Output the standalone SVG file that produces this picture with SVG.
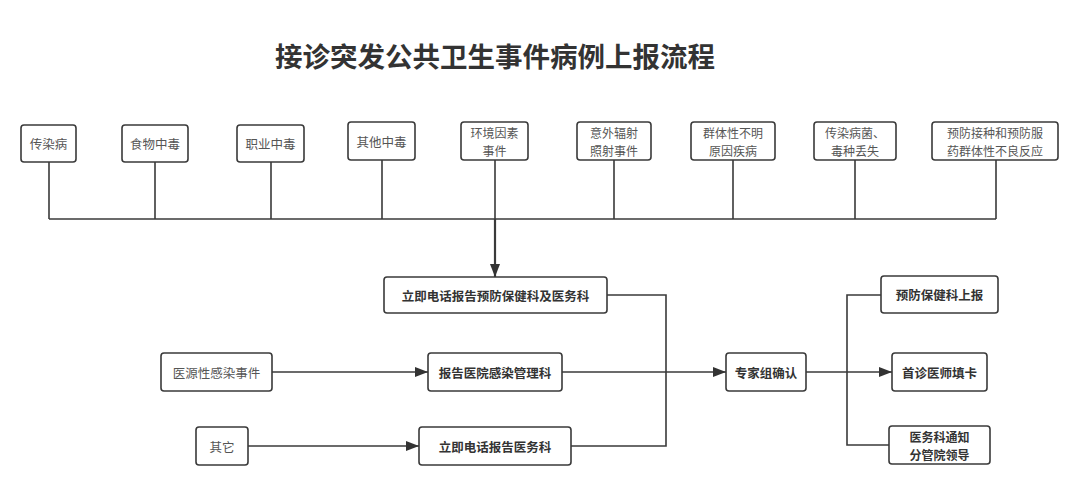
<svg xmlns="http://www.w3.org/2000/svg" width="1080" height="485" viewBox="0 0 1080 485">
<style>
.box{fill:#fff;stroke:#3a3a3a;stroke-width:1.6}
.t{font-family:"Noto Sans CJK SC","Noto Sans",sans-serif;font-size:12.5px;fill:#555;text-anchor:middle;dominant-baseline:central}
.t2{font-size:12px}
.b{fill:#333;font-weight:600}
.ln{fill:none;stroke:#3a3a3a;stroke-width:1.6}
.title{font-family:"Noto Sans CJK SC","Noto Sans",sans-serif;font-size:27.5px;font-weight:bold;fill:#333;text-anchor:middle}
</style>
<defs>
<marker id="arr" markerUnits="userSpaceOnUse" markerWidth="14" markerHeight="10" refX="13" refY="5" orient="auto">
<path d="M0,0 L13,5 L0,10 Z" fill="#333"/>
</marker>
</defs>
<rect width="1080" height="485" fill="#fff"/>
<text class="title" x="495" y="67">接诊突发公共卫生事件病例上报流程</text>

<g id="connectors">
<path class="ln" d="M49,162 V219 M155,162 V219 M271,162 V219 M382,160 V219 M495,160 V219 M614,160 V219 M733,160 V219 M855,160 V219 M996,160 V219"/>
<path class="ln" d="M49,219 H996"/>
<path class="ln" style="stroke-width:2.2" d="M495,219 V277" marker-end="url(#arr)"/>
<path class="ln" d="M607,295 H666 V446 H571"/>
<path class="ln" d="M272,372 H428" marker-end="url(#arr)"/>
<path class="ln" d="M248,446 H419" marker-end="url(#arr)"/>
<path class="ln" d="M562,372 H726" marker-end="url(#arr)"/>
<path class="ln" d="M806,372 H892" marker-end="url(#arr)"/>
<path class="ln" d="M881,295 H847 V445 H889"/>
</g>

<g id="n1"><rect class="box" x="21" y="125" width="55" height="37" rx="3"/><text class="t" x="48.5" y="143.5">传染病</text></g>
<g id="n2"><rect class="box" x="122" y="125" width="66" height="37" rx="3"/><text class="t" x="155" y="143.5">食物中毒</text></g>
<g id="n3"><rect class="box" x="237" y="125" width="67" height="37" rx="3"/><text class="t" x="270.5" y="143.5">职业中毒</text></g>
<g id="n4"><rect class="box" x="348" y="122" width="67" height="38" rx="3"/><text class="t" x="381.5" y="141">其他中毒</text></g>
<g id="n5"><rect class="box" x="461" y="122" width="67" height="38" rx="3"/><text class="t t2" x="494.5" y="132.25">环境因素<tspan x="494.5" dy="17.5">事件</tspan></text></g>
<g id="n6"><rect class="box" x="577" y="122" width="74" height="38" rx="3"/><text class="t t2" x="614" y="132.25">意外辐射<tspan x="614" dy="17.5">照射事件</tspan></text></g>
<g id="n7"><rect class="box" x="691" y="122" width="84" height="38" rx="3"/><text class="t t2" x="733" y="132.25">群体性不明<tspan x="733" dy="17.5">原因疾病</tspan></text></g>
<g id="n8"><rect class="box" x="814" y="122" width="82" height="38" rx="3"/><text class="t t2" x="855" y="132.25">传染病菌、<tspan x="855" dy="17.5">毒种丢失</tspan></text></g>
<g id="n9"><rect class="box" x="932" y="122" width="126" height="38" rx="3"/><text class="t t2" x="995" y="132.25">预防接种和预防服<tspan x="995" dy="17.5">药群体性不良反应</tspan></text></g>

<g id="n10"><rect class="box" x="384" y="277" width="223" height="36" rx="3"/><text class="t b" x="495.5" y="295">立即电话报告预防保健科及医务科</text></g>
<g id="n11"><rect class="box" x="161" y="353" width="111" height="38" rx="3"/><text class="t" x="216.5" y="372">医源性感染事件</text></g>
<g id="n12"><rect class="box" x="428" y="353" width="134" height="38" rx="3"/><text class="t b" x="495" y="372">报告医院感染管理科</text></g>
<g id="n13"><rect class="box" x="196" y="427" width="52" height="38" rx="3"/><text class="t" x="222" y="446">其它</text></g>
<g id="n14"><rect class="box" x="419" y="427" width="152" height="38" rx="3"/><text class="t b" x="495" y="446">立即电话报告医务科</text></g>
<g id="n15"><rect class="box" x="726" y="353" width="80" height="38" rx="3"/><text class="t b" x="766" y="372">专家组确认</text></g>
<g id="n16"><rect class="box" x="881" y="276" width="117" height="37" rx="3"/><text class="t b" x="939.5" y="294.5">预防保健科上报</text></g>
<g id="n17"><rect class="box" x="892" y="353" width="95" height="38" rx="3"/><text class="t b" x="939.5" y="372">首诊医师填卡</text></g>
<g id="n18"><rect class="box" x="889" y="426" width="101" height="38" rx="3"/><text class="t b t2" x="939.5" y="436.25">医务科通知<tspan x="939.5" dy="17.5">分管院领导</tspan></text></g>
</svg>
